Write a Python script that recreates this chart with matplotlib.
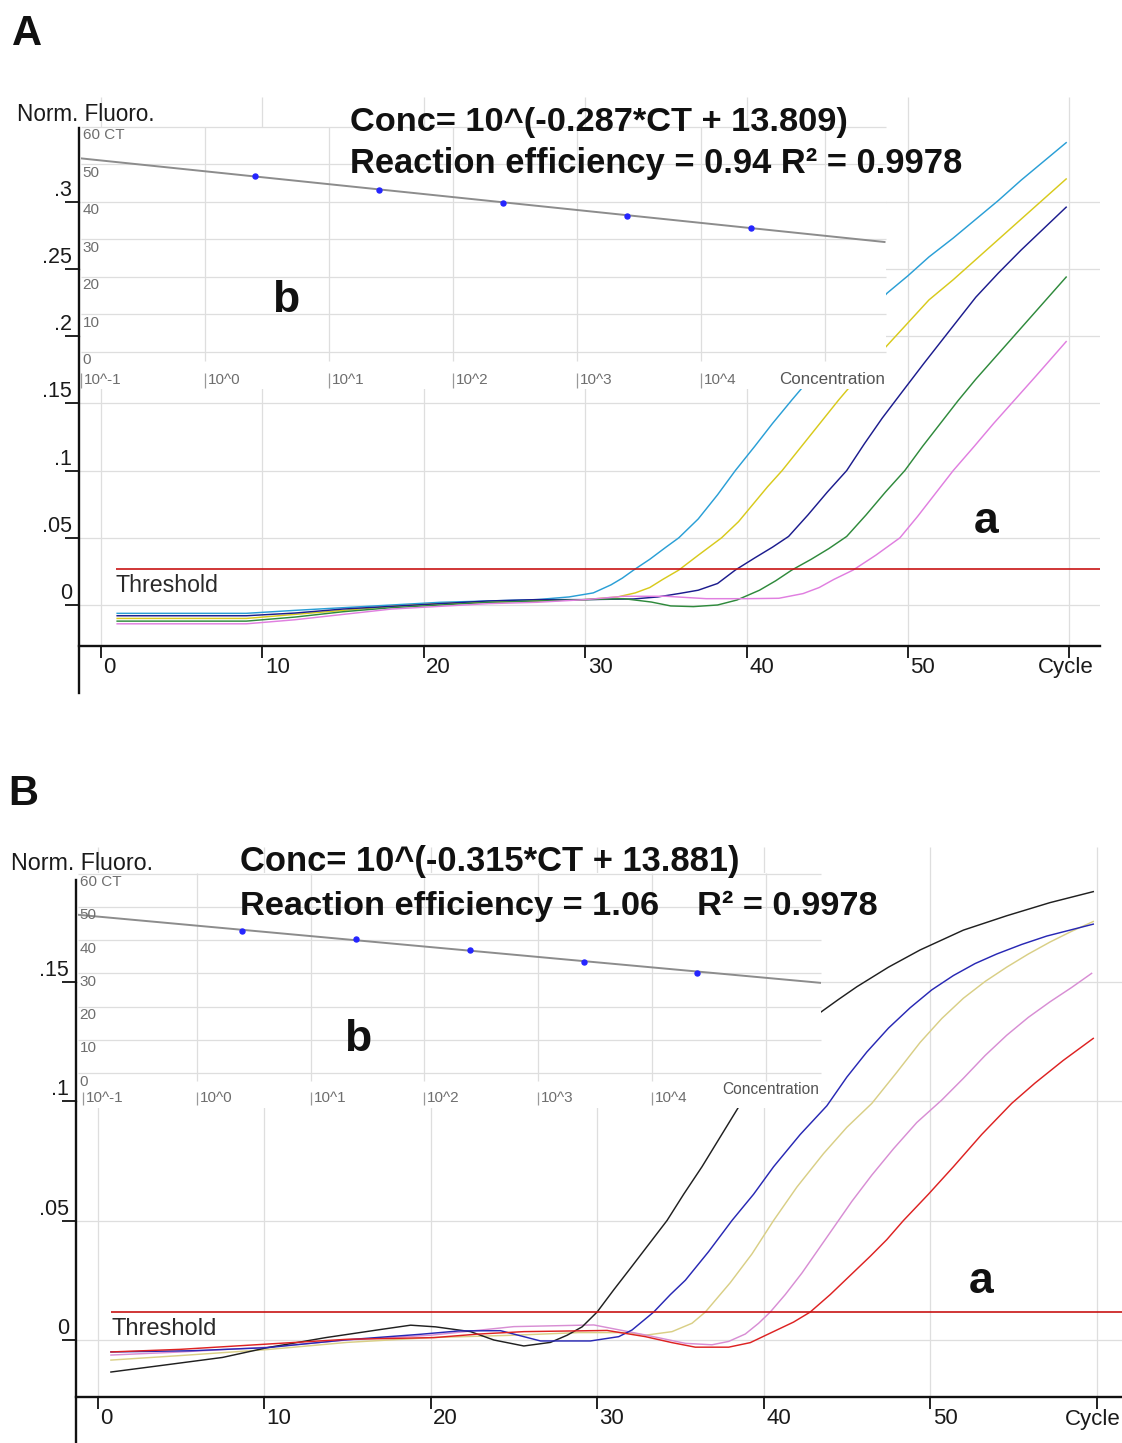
import matplotlib
matplotlib.use("Agg")
import matplotlib.pyplot as plt

plt.rcParams['font.family'] = ['Liberation Sans', 'DejaVu Sans']

# ------------------------------------------------------------------ data
# Panel A : amplification curves (cycle, normalised fluorescence)
a_cyan_cycle = [1, 9, 12, 15, 18, 21, 24, 27, 29, 30.5, 31.6, 32.3, 33.0, 34.0, 35.0, 35.8, 37.0, 38.2,
                39.3, 40.5, 41.6, 42.8, 43.4, 48.7, 50.0, 51.3, 52.8, 54.2, 55.6, 57.0, 58.4, 59.8]
a_cyan_val = [-0.0062, -0.0062, -0.004, -0.002, 0.000, 0.002, 0.003, 0.004, 0.006, 0.009, 0.015, 0.020,
              0.026, 0.034, 0.043, 0.050, 0.064, 0.082, 0.100, 0.118, 0.135, 0.1525, 0.161, 0.232, 0.245,
              0.259, 0.273, 0.287, 0.301, 0.316, 0.330, 0.344]
a_yellow_cycle = [1, 9, 12, 15, 18, 21, 24, 27, 30, 32, 33.1, 34.0, 34.8, 35.8, 37.0, 38.45, 39.5, 40.4,
                  41.3, 42.2, 43.4, 44.6, 45.7, 46.3, 48.7, 50.0, 51.3, 52.8, 54.2, 55.6, 57.0, 58.4, 59.8]
a_yellow_val = [-0.010, -0.010, -0.007, -0.004, -0.001, 0.001, 0.002, 0.003, 0.004, 0.006, 0.009, 0.013,
                0.019, 0.026, 0.037, 0.050, 0.062, 0.075, 0.088, 0.100, 0.118, 0.136, 0.1525, 0.161,
                0.193, 0.210, 0.227, 0.242, 0.257, 0.272, 0.287, 0.302, 0.317]
a_navy_cycle = [1, 9, 12, 15, 18, 21, 24, 27, 30, 33, 34.5, 35.9, 37.0, 38.2, 39.3, 40.5, 41.6, 42.6, 43.8,
                45.0, 46.2, 47.3, 48.4, 49.6, 51.0, 52.5, 54.2, 55.6, 57.0, 58.4, 59.8]
a_navy_val = [-0.008, -0.008, -0.006, -0.003, -0.001, 0.001, 0.003, 0.004, 0.004, 0.0045, 0.006, 0.0087,
              0.011, 0.016, 0.026, 0.035, 0.043, 0.051, 0.067, 0.084, 0.100, 0.120, 0.139, 0.158, 0.180,
              0.203, 0.229, 0.247, 0.264, 0.280, 0.296]
a_green_cycle = [1, 9, 12, 15, 18, 21, 24, 27, 30, 32.4, 34.1, 35.3, 36.7, 38.2, 39.4, 40.8, 41.8, 42.8,
                 44.0, 45.1, 46.2, 47.4, 48.6, 49.8, 50.9, 52.0, 53.1, 54.2, 55.6, 57.0, 58.4, 59.8]
a_green_val = [-0.012, -0.012, -0.009, -0.005, -0.002, 0.000, 0.002, 0.003, 0.004, 0.0047, 0.0022, -0.0007,
               -0.0012, 0.000, 0.0037, 0.011, 0.018, 0.026, 0.034, 0.042, 0.051, 0.067, 0.084, 0.100,
               0.118, 0.135, 0.152, 0.168, 0.187, 0.206, 0.225, 0.244]
a_pink_cycle = [1, 9, 12, 15, 18, 21, 24, 27, 30, 32.4, 35, 37.5, 40, 42, 43.5, 44.5, 45.4, 46.6, 48.0,
                49.5, 50.6, 51.7, 52.8, 54.1, 55.3, 56.6, 57.9, 59.8]
a_pink_val = [-0.014, -0.014, -0.011, -0.007, -0.003, -0.001, 0.001, 0.002, 0.004, 0.0065, 0.0065, 0.0047,
              0.0047, 0.005, 0.0085, 0.013, 0.019, 0.026, 0.037, 0.050, 0.066, 0.083, 0.100, 0.118,
              0.135, 0.1525, 0.170, 0.196]
a_threshold = 0.0266

# Panel A : standard curve inset (log10 concentration, CT)
a_std_logc = [0.4, 1.4, 2.4, 3.4, 4.4]
a_std_ct = [46.8, 43.1, 39.7, 36.2, 33.0]
a_fit_logc = [-1.0, 5.48]
a_fit_ct = [51.5, 29.2]

# Panel B : amplification curves
b_black_cycle = [0.8, 4, 7.5, 10.2, 13.7, 17.1, 18.8, 20.3, 22.4, 23.8, 25.6, 27.2, 28.2, 29.1, 30.0, 31.0,
                 32.0, 33.1, 34.2, 35.2, 36.3, 37.4, 38.5, 39.0, 43.4, 44.5, 45.6, 47.5, 49.4, 52.0, 54.6,
                 57.2, 59.8]
b_black_val = [-0.0134, -0.0105, -0.0073, -0.0032, 0.0010, 0.0045, 0.0062, 0.0055, 0.0035, 0.000, -0.0025,
               -0.0010, 0.002, 0.0055, 0.0117, 0.021, 0.030, 0.040, 0.050, 0.061, 0.0725, 0.085, 0.0975,
               0.102, 0.137, 0.1425, 0.1478, 0.156, 0.1632, 0.1715, 0.1775, 0.183, 0.1876]
b_blue_cycle = [0.8, 5.6, 10.2, 14.8, 19.4, 21.7, 24.2, 25.6, 26.6, 29.6, 31.3, 32.1, 33.4, 34.4, 35.3,
                36.7, 38.1, 39.4, 40.6, 42.2, 43.8, 45.0, 46.2, 47.5, 48.8, 50.1, 51.4, 52.7, 54.0, 55.5,
                57.0, 58.4, 59.8]
b_blue_val = [-0.005, -0.0045, -0.0032, 0.000, 0.0024, 0.0038, 0.0039, 0.0014, -0.0004, -0.0004, 0.0014,
              0.0042, 0.0117, 0.019, 0.025, 0.037, 0.050, 0.061, 0.0725, 0.086, 0.098, 0.110, 0.1205,
              0.1305, 0.139, 0.1465, 0.1525, 0.1575, 0.1615, 0.1655, 0.169, 0.1715, 0.174]
b_khaki_cycle = [0.8, 5, 10.2, 15, 20, 25, 28.9, 31.9, 32.9, 34.5, 35.7, 36.5, 38.0, 39.3, 40.6, 42.0, 43.6,
                 45.0, 46.5, 48.0, 49.4, 50.7, 52.0, 53.3, 54.6, 55.9, 57.2, 58.5, 59.8]
b_khaki_val = [-0.0084, -0.0065, -0.004, -0.001, 0.001, 0.002, 0.0031, 0.0031, 0.002, 0.0035, 0.007, 0.0117,
               0.024, 0.036, 0.050, 0.064, 0.078, 0.089, 0.099, 0.112, 0.1245, 0.1345, 0.143, 0.150, 0.156,
               0.1615, 0.1665, 0.171, 0.1751]
b_pink_cycle = [0.8, 5, 10.2, 15, 20, 25, 29.8, 32.9, 35.3, 36.9, 37.9, 38.9, 39.7, 40.4, 41.3, 42.3, 43.2,
                44.2, 45.3, 46.5, 47.8, 49.2, 50.7, 52.0, 53.3, 54.6, 55.9, 57.2, 58.5, 59.7]
b_pink_val = [-0.0063, -0.005, -0.003, 0.000, 0.002, 0.0056, 0.0063, 0.0021, -0.0014, -0.002, -0.0006,
              0.0025, 0.007, 0.0117, 0.019, 0.028, 0.037, 0.047, 0.058, 0.069, 0.080, 0.091, 0.1004,
              0.1095, 0.119, 0.1275, 0.135, 0.1415, 0.1475, 0.1534]
b_red_cycle = [0.8, 5, 10.2, 15, 20.2, 22.9, 25.6, 30.6, 32.9, 34.5, 35.9, 37.9, 39.2, 40.8, 41.8, 42.8,
               44.0, 45.2, 46.4, 47.4, 48.4, 49.9, 51.4, 53.1, 54.9, 56.3, 58.0, 59.8]
b_red_val = [-0.005, -0.0039, -0.0017, 0.0003, 0.001, 0.0025, 0.0035, 0.004, 0.0014, -0.0011, -0.003, -0.003,
             -0.0011, 0.0042, 0.0075, 0.0117, 0.019, 0.027, 0.035, 0.042, 0.050, 0.061, 0.0725, 0.086,
             0.099, 0.1075, 0.117, 0.1262]
b_threshold = 0.0117

# Panel B : standard curve inset
b_std_logc = [0.4, 1.4, 2.4, 3.4, 4.4]
b_std_ct = [42.8, 40.3, 37.0, 33.5, 30.2]
b_fit_logc = [-1.05, 5.49]
b_fit_ct = [47.6, 27.1]

# tick labels
a_yticks = [0, 0.05, 0.1, 0.15, 0.2, 0.25, 0.3]
a_ylabels = ['0', '.05', '.1', '.15', '.2', '.25', '.3']
b_yticks = [0, 0.05, 0.1, 0.15]
b_ylabels = ['0', '.05', '.1', '.15']
cycle_ticks = [0, 10, 20, 30, 40, 50, 60]
cycle_labels = ['0', '10', '20', '30', '40', '50', 'Cycle']
ct_ticks = [0, 10, 20, 30, 40, 50, 60]
ct_labels = ['0', '10', '20', '30', '40', '50', '60 CT']
conc_ticks = [-1, 0, 1, 2, 3, 4]
conc_labels = ['10^-1', '10^0', '10^1', '10^2', '10^3', '10^4']

eqA = ['Conc= 10^(-0.287*CT + 13.809)', 'Reaction efficiency = 0.94 R\u00b2 = 0.9978']
eqB = ['Conc= 10^(-0.315*CT + 13.881)', 'Reaction efficiency = 1.06    R\u00b2 = 0.9978']

# ------------------------------------------------------------------ layout helpers
W, H = 1122, 1443
fig = plt.figure(figsize=(W / 100, H / 100), dpi=100)
fig.patch.set_facecolor('white')
renderer = fig.canvas.get_renderer()

GRID = '#dedede'
TXT = '#1a1a1a'
INS_TXT = '#6e6e6e'
THR = '#c81414'


def fx(px):
    return px / W


def fy(py):
    return 1 - py / H


def fit_width(t, target_px):
    w = t.get_window_extent(renderer=renderer).width
    t.set_fontsize(t.get_fontsize() * target_px / w)


def main_panel(rect, xlim, ylim, spine_y, spine_top, yticks, ylabels, threshold, thr_start, curves):
    ax = fig.add_axes(rect)
    ax.set_facecolor('white')
    ax.set_xlim(*xlim)
    ax.set_ylim(*ylim)
    for s in ['top', 'right']:
        ax.spines[s].set_visible(False)
    ax.spines['left'].set_bounds(ylim[0], spine_top)
    ax.spines['bottom'].set_position(('data', spine_y))
    ax.spines['bottom'].set_bounds(xlim[0], xlim[1])
    for s in ['left', 'bottom']:
        ax.spines[s].set_linewidth(1.7)
        ax.spines[s].set_color('#111111')
    ax.set_xticks(cycle_ticks)
    ax.set_yticks(yticks)
    ax.tick_params(axis='x', direction='out', length=8.5, width=1.3, color='#111111', labelbottom=False)
    ax.tick_params(axis='y', direction='out', length=10, width=1.3, color='#111111', labelleft=False)
    # grid
    ax.hlines(yticks, xlim[0], xlim[1], color=GRID, lw=0.9, zorder=0)
    ax.vlines(cycle_ticks, spine_y, ylim[1], color=GRID, lw=0.9, zorder=0)
    # tick labels
    for v, lab in zip(yticks, ylabels):
        ax.annotate(lab, xy=(0, v), xycoords=ax.get_yaxis_transform(), xytext=(-5, 4.3),
                    textcoords='offset points', ha='right', va='baseline', fontsize=15.5,
                    color=TXT, annotation_clip=False)
    for c, lab in zip(cycle_ticks, cycle_labels):
        if lab == 'Cycle':
            ax.annotate(lab, xy=(c, spine_y), xytext=(-2.5, -19.8), textcoords='offset points',
                        ha='center', va='baseline', fontsize=16, color=TXT, annotation_clip=False)
        else:
            ax.annotate(lab, xy=(c, spine_y), xytext=(1.8, -19.8), textcoords='offset points',
                        ha='left', va='baseline', fontsize=16, color=TXT, annotation_clip=False)
    # curves
    for cyc, val, col in curves:
        ax.plot(cyc, val, color=col, lw=1.05, zorder=2, solid_joinstyle='round')
    ax.hlines([threshold], thr_start, xlim[1], color=THR, lw=1.2, zorder=3)
    return ax


def inset_panel(rect, xlim, ylim, label_ct, logc, ct, fit_logc, fit_ct, conc_dy=0.0):
    ins = fig.add_axes(rect)
    ins.set_facecolor('white')
    ins.set_xlim(*xlim)
    ins.set_ylim(*ylim)
    for s in ins.spines.values():
        s.set_visible(False)
    ins.set_xticks([])
    ins.set_yticks([])
    ins.hlines(ct_ticks, xlim[0], xlim[1], color=GRID, lw=0.9, zorder=0, clip_on=False)
    ins.vlines([0, 1, 2, 3, 4, 5], -2.5, ylim[1], color=GRID, lw=0.9, zorder=0)
    for v, lab in zip(ct_ticks, ct_labels):
        ins.annotate(lab, xy=(0, v), xycoords=ins.get_yaxis_transform(), xytext=(1.2, -1.2),
                     textcoords='offset points', ha='left', va='top', fontsize=11, color=INS_TXT,
                     annotation_clip=False)
    for L, lab in zip(conc_ticks, conc_labels):
        ins.vlines([L], label_ct - 2.1, label_ct + 1.9, color='#9a9a9a', lw=0.9, clip_on=False)
        ins.annotate(lab, xy=(L, label_ct), xytext=(2.0, 0), textcoords='offset points',
                     ha='left', va='center', fontsize=11, color=INS_TXT, annotation_clip=False)
    t = ins.annotate('Concentration', xy=(1.0, label_ct + conc_dy), xycoords=ins.get_yaxis_transform(),
                     xytext=(-1, 0), textcoords='offset points', ha='right', va='center',
                     fontsize=11.5, color='#555555', annotation_clip=False)
    ins.plot(fit_logc, fit_ct, color='#8c8c8c', lw=1.4, zorder=2)
    ins.plot(logc, ct, 'o', color='#2525ff', ms=3.6, zorder=3)
    return ins, t


# ------------------------------------------------------------------ panel A
axA = main_panel([fx(79), fy(693), (1100 - 79) / W, (693 - 97) / H],
                 xlim=((79 - 101) / 16.14, (1100 - 101) / 16.14),
                 ylim=(-(693 - 605) / 1344.0, (605 - 97) / 1344.0),
                 spine_y=-(645.5 - 605) / 1344.0, spine_top=(605 - 128) / 1344.0,
                 yticks=a_yticks, ylabels=a_ylabels, threshold=a_threshold, thr_start=0.9,
                 curves=[(a_cyan_cycle, a_cyan_val, '#2a9fd6'),
                         (a_yellow_cycle, a_yellow_val, '#d8ca1c'),
                         (a_navy_cycle, a_navy_val, '#1c1c8e'),
                         (a_green_cycle, a_green_val, '#2f8a3c'),
                         (a_pink_cycle, a_pink_val, '#e07fe0')])
insA, concA = inset_panel([fx(81), fy(389), (886 - 81) / W, (389 - 127) / H],
                          xlim=((81 - 205) / 124.0, (886 - 205) / 124.0),
                          ylim=((351.5 - 389) / 3.75, (351.5 - 127) / 3.75),
                          label_ct=-7.5, logc=a_std_logc, ct=a_std_ct,
                          fit_logc=a_fit_logc, fit_ct=a_fit_ct)
fit_width(concA, 106)

# ------------------------------------------------------------------ panel B
axB = main_panel([fx(76), fy(1443), (1122 - 76) / W, (1443 - 847) / H],
                 xlim=((76 - 97.6) / 16.65, (1122 - 97.6) / 16.65),
                 ylim=(-(1443 - 1340) / 2390.0, (1340 - 847) / 2390.0),
                 spine_y=-(1397 - 1340) / 2390.0, spine_top=(1340 - 880) / 2390.0,
                 yticks=b_yticks, ylabels=b_ylabels, threshold=b_threshold, thr_start=0.8,
                 curves=[(b_khaki_cycle, b_khaki_val, '#d9cf86'),
                         (b_pink_cycle, b_pink_val, '#d88ed4'),
                         (b_black_cycle, b_black_val, '#202020'),
                         (b_blue_cycle, b_blue_val, '#2828b4'),
                         (b_red_cycle, b_red_val, '#dd2222')])
insB, concB = inset_panel([fx(78), fy(1108), (821 - 78) / W, (1108 - 873) / H],
                          xlim=((78 - 197) / 113.7, (821 - 197) / 113.7),
                          ylim=((1073 - 1108) / 3.325, (1073 - 873) / 3.325),
                          label_ct=-7.5, logc=b_std_logc, ct=b_std_ct,
                          fit_logc=b_fit_logc, fit_ct=b_fit_ct, conc_dy=2.4)
fit_width(concB, 97)

# ------------------------------------------------------------------ texts
fig.text(fx(12), fy(45), 'A', fontsize=30, fontweight='bold', color='#111111', va='baseline')
fig.text(fx(8), fy(805), 'B', fontsize=30, fontweight='bold', color='#111111', va='baseline')

t = fig.text(fx(17), fy(121), 'Norm. Fluoro.', fontsize=15, color=TXT, va='baseline')
fit_width(t, 138)
t = fig.text(fx(11), fy(870), 'Norm. Fluoro.', fontsize=15, color=TXT, va='baseline')
fit_width(t, 143)

for (txt, x0, yb, w) in [(eqA[0], 350, 131, 498), (eqA[1], 350, 173, 612),
                         (eqB[0], 240, 871, 500), (eqB[1], 240, 915, 638)]:
    t = fig.text(fx(x0), fy(yb), txt, fontsize=21, fontweight='bold', color='#111111',
                 va='baseline', ha='left', zorder=10)
    fit_width(t, w)

fig.text(fx(272), fy(312), 'b', fontsize=32, fontweight='bold', color='#111111', va='baseline', zorder=10)
fig.text(fx(344), fy(1051), 'b', fontsize=32, fontweight='bold', color='#111111', va='baseline', zorder=10)
fig.text(fx(974), fy(533), 'a', fontsize=32, fontweight='bold', color='#111111', va='baseline', zorder=10)
fig.text(fx(969), fy(1293), 'a', fontsize=32, fontweight='bold', color='#111111', va='baseline', zorder=10)

t = fig.text(fx(115), fy(592), 'Threshold', fontsize=16, color='#2a2a2a', va='baseline', zorder=10)
fit_width(t, 103)
t = fig.text(fx(111), fy(1335), 'Threshold', fontsize=16, color='#2a2a2a', va='baseline', zorder=10)
fit_width(t, 106)

fig.savefig('out.png', dpi=100, facecolor='white')
